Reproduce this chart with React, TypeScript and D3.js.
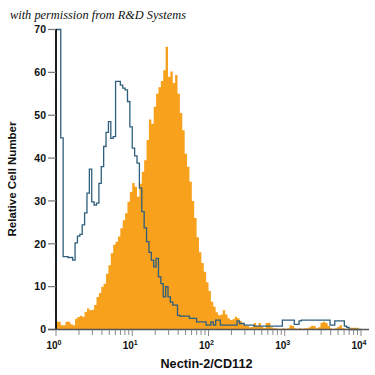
import React from "react";
import * as d3 from "d3";

// 128 log-spaced bins from 10^0 to 10^4
const orangeCounts: number[] = [
  1.8, 1.8, 1.0, 1.0, 1.8, 1.8, 1.2, 1.0, 2.5, 2.9,
  3.2, 3.0, 4.1, 4.9, 4.5, 4.6, 5.7, 7.6, 8.5, 10,
  10.7, 13, 15, 17.8, 19.8, 20.5, 21.7, 23.6, 25.5, 27.1,
  29.8, 32.1, 34.2, 33.3, 31, 34, 36.8, 39.5, 44.2, 49,
  48, 52, 55, 56.5, 58, 60.5, 66, 59, 60.2, 57.5,
  59.4, 55, 50.5, 46.5, 41, 38, 34.5, 30, 26, 21.5,
  18, 15.5, 13.5, 11, 9, 6.5, 5.3, 4, 3.3, 3.5,
  4.5, 3.5, 2.6, 2.2, 2.4, 3.0, 2.6, 2.0, 1.2, 1.0,
  0.8, 0.5, 0.6, 1.5, 0.8, 1.5, 0.6, 0.3, 1.5, 1.6,
  0.5, 0.3, 0.3, 0.2, 0.2, 0.3, 0.2, 0.3, 1.0, 0.8,
  0.3, 0.2, 0.3, 0.2, 0.3, 0.3, 0.5, 0.9, 0.8, 0.3,
  0.5, 1.6, 1.8, 1.5, 0.8, 0.3, 0.0, 0.3, 0.6, 1.0,
  0.3, 0.2, 0.2, 0.4, 0.4, 0.4, 0.4, 0.0,
];

const blueCounts: number[] = [
  70, 70, 44.7, 17, 17, 16.8, 16.8, 16.2, 20.2, 21.8,
  22.2, 24.4, 27.2, 31.8, 37.4, 29.8, 29, 29.5, 34.1, 38,
  42.7, 46, 48.5, 44.6, 45, 57.9, 57.9, 57, 56.3, 55.9,
  53.2, 47.3, 42.3, 40.5, 38.8, 33, 27.5, 23.7, 20.5, 18,
  16.2, 14.6, 16.6, 12.3, 10.7, 7.6, 10, 7.6, 6.4, 5.7,
  5.7, 3.3, 3.1, 3.1, 3.1, 3.1, 2.6, 2.6, 2.6, 1.8,
  1.8, 1.8, 1.8, 1.0, 1.0, 1.8, 1.0, 2.2, 2.2, 1.0,
  1.0, 1.0, 1.0, 1.0, 1.0, 1.0, 2.0, 1.4, 1.4, 1.0,
  1.0, 1.0, 1.0, 0.8, 0.8, 0.8, 0.8, 0.8, 0.8, 0.8,
  0.8, 0.8, 0.8, 0.8, 0.8, 2.2, 2.2, 2.2, 2.2, 2.2,
  1.2, 1.2, 2.0, 2.2, 2.2, 2.2, 2.2, 2.2, 2.2, 2.2,
  2.2, 2.2, 2.2, 2.2, 2.2, 1.0, 1.0, 2.0, 2.0, 2.0,
  2.0, 0.8, 0.5, 0, 0, 0, 0, 0,
];

const yTicks: number[] = [0, 10, 20, 30, 40, 50, 60, 70];
const xDecades: number[] = [0, 1, 2, 3, 4];

const W = 375;
const H = 375;

export default function App() {
  const x = d3.scaleLog().domain([1, 10000]).range([56, 361]);
  const y = d3.scaleLinear().domain([0, 70]).range([329.5, 29.5]);
  const n = orangeCounts.length;
  const edge = (i: number) => Math.pow(10, (4 * i) / n);

  const ptsO: [number, number][] = orangeCounts.map((v, i) => [edge(i), v]);
  ptsO.push([edge(n), orangeCounts[n - 1]]);
  const area = d3
    .area<[number, number]>()
    .x((d) => x(d[0]))
    .y0(y(0))
    .y1((d) => y(d[1]))
    .curve(d3.curveStepAfter);

  const ptsB: [number, number][] = [[edge(0), 0]];
  blueCounts.forEach((v, i) => ptsB.push([edge(i), v]));
  ptsB.push([edge(n), 0]);
  const line = d3
    .line<[number, number]>()
    .x((d) => x(d[0]))
    .y((d) => y(Math.min(d[1], 70)))
    .curve(d3.curveStepAfter);

  const minor: number[] = [];
  for (let e = 0; e < 4; e++) {
    for (let k = 2; k <= 9; k++) minor.push(k * Math.pow(10, e));
  }

  const font = "'Liberation Sans', Arial, sans-serif";

  return (
    <svg width={W} height={H} style={{ display: "block", position: "absolute", left: 0, top: 0 }}>
      <rect width={W} height={H} fill="#fff" />
      <text
        x={10}
        y={19}
        fontFamily="'Liberation Serif', serif"
        fontStyle="italic"
        fontSize={11.5}
        textLength={176}
        lengthAdjust="spacingAndGlyphs"
        fill="#111"
      >
        with permission from R&amp;D Systems
      </text>

      <path d={area(ptsO) || ""} fill="#F7A11D" />
      <path d={line(ptsB) || ""} fill="none" stroke="#2f5f7d" strokeWidth={1.3} />

      {/* y axis */}
      <line x1={56} x2={56} y1={29} y2={330} stroke="#000" strokeWidth={1.6} />
      {yTicks.map((t) => (
        <g key={t}>
          <line x1={48} x2={56} y1={y(t)} y2={y(t)} stroke="#777" strokeWidth={1.2} />
          <text
            x={46}
            y={y(t) + 3.8}
            textAnchor="end"
            fontFamily={font}
            fontWeight="bold"
            fontSize={10.5}
            fill="#111"
          >
            {t}
          </text>
        </g>
      ))}
      <text
        transform={`translate(16,179) rotate(-90)`}
        textAnchor="middle"
        fontFamily={font}
        fontWeight="bold"
        fontSize={11}
        textLength={115}
        lengthAdjust="spacingAndGlyphs"
        fill="#111"
      >
        Relative Cell Number
      </text>

      {/* x axis */}
      <line x1={48} x2={369} y1={329.5} y2={329.5} stroke="#555" strokeWidth={1.5} />
      {minor.map((v) => (
        <line key={"m" + v} x1={x(v)} x2={x(v)} y1={330} y2={335} stroke="#888" strokeWidth={1} />
      ))}
      {xDecades.map((e) => (
        <g key={e}>
          <line
            x1={x(Math.pow(10, e))}
            x2={x(Math.pow(10, e))}
            y1={330}
            y2={336}
            stroke="#888"
            strokeWidth={1}
          />
          <text
            x={x(Math.pow(10, e)) - 2}
            y={349}
            textAnchor="middle"
            fontFamily={font}
            fontWeight="bold"
            fontSize={10}
            fill="#111"
          >
            10
            <tspan dy={-4} fontSize={7}>
              {e}
            </tspan>
          </text>
        </g>
      ))}
      <text
        x={206.5}
        y={368}
        textAnchor="middle"
        fontFamily={font}
        fontWeight="bold"
        fontSize={12}
        textLength={92}
        lengthAdjust="spacingAndGlyphs"
        fill="#111"
      >
        Nectin-2/CD112
      </text>
    </svg>
  );
}
